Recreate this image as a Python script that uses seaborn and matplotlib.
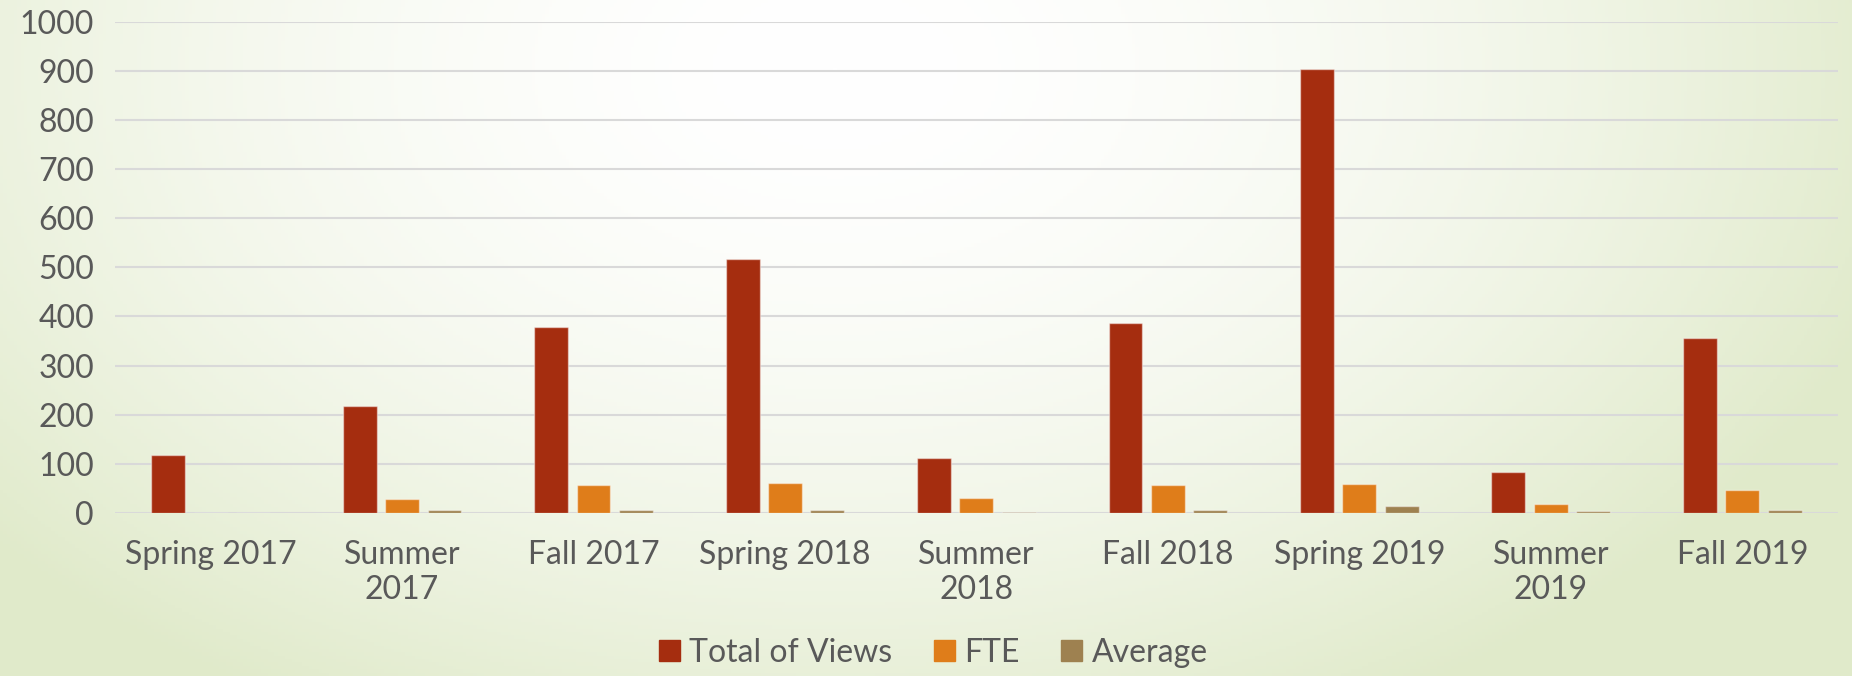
import numpy as np
import pandas as pd
import matplotlib
matplotlib.use("Agg")
import matplotlib.pyplot as plt
import seaborn as sns

# dados
semesters = ["Spring 2017", "Summer\n2017", "Fall 2017", "Spring 2018", "Summer\n2018",
             "Fall 2018", "Spring 2019", "Summer\n2019", "Fall 2019"]
total_views = [117, 217, 378, 517, 111, 387, 905, 83, 356]
fte = [0, 28, 56, 60, 30, 56, 59, 17, 46]
average = [0, 5, 5, 5, 1, 5, 13, 4, 5]

series_names = ["Total of Views", "FTE", "Average"]
colors = ["#A52D0F", "#DF7D1A", "#9E8150"]

df = pd.DataFrame({"Semester": semesters, "Total of Views": total_views,
                   "FTE": fte, "Average": average})
long_df = df.melt(id_vars="Semester", var_name="Series", value_name="Value")

sns.set_style("white")
plt.rcParams['font.family'] = ['Lato', 'DejaVu Sans']
text_color = "#595959"

fig = plt.figure(figsize=(18.52, 6.76), dpi=100)

# fundo em degradê (verde claro nas bordas, branco no centro)
bg = fig.add_axes([0, 0, 1, 1], zorder=-10)
h, w = 200, 540
yy, xx = np.mgrid[0:h, 0:w]
xn = xx / w
yn = yy / h
d = np.sqrt(((xn - 0.45) / 1.0) ** 2 + ((yn - 0.1) / 1.8) ** 2)
t = np.clip(d / 0.6, 0, 1) ** 1.8
white = np.array([1.0, 1.0, 1.0])
green = np.array([224, 234, 202]) / 255
img = white[None, None, :] * (1 - t[..., None]) + green[None, None, :] * t[..., None]
bg.imshow(img, aspect="auto", extent=[0, 1, 0, 1], origin="upper")
bg.axis("off")

ax = fig.add_axes([0.062, 0.2417, 0.9305, 0.7253])
ax.set_facecolor("none")

sns.barplot(data=long_df, x="Semester", y="Value", hue="Series", hue_order=series_names,
            palette=colors, saturation=1, width=0.665, gap=0.2, ax=ax, legend=False,
            edgecolor=(1, 1, 1, 0.45), linewidth=1)

ax.set_ylim(0, 1000)
ax.set_yticks(range(0, 1001, 100))
ax.yaxis.grid(True, color="#D9D9D9", linewidth=1.5)
ax.set_axisbelow(True)
for s in ax.spines.values():
    s.set_visible(False)
ax.set_xlabel("")
ax.set_ylabel("")
ax.tick_params(axis="both", length=0, labelsize=23, labelcolor=text_color)
ax.tick_params(axis="x", pad=20)
ax.tick_params(axis="y", pad=15)

handles = [plt.Rectangle((0, 0), 1, 1, color=c) for c in colors]
fig.legend(handles, series_names, loc="center", bbox_to_anchor=(0.504, 0.034), ncol=3,
           frameon=False, fontsize=23, labelcolor=text_color, handlelength=0.65,
           handleheight=0.65, handletextpad=0.3, columnspacing=1.3)

plt.savefig("out.png", dpi=100)
